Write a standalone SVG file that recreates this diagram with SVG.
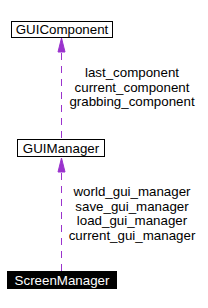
<svg xmlns="http://www.w3.org/2000/svg" width="208" height="308" viewBox="0 0 208 308">
<style>
.box{fill:#ffffff;stroke:#000000;stroke-width:1}
.sel{fill:#000000;stroke:#000000;stroke-width:1}
.t{font-family:"Liberation Sans",Arial,sans-serif;font-size:13.33px;text-anchor:middle;fill:#000000}
.tw{fill:#ffffff}
.edge{stroke:#9a32cd;stroke-width:1;stroke-dasharray:7,6;fill:none}
.head{fill:#9a32cd;stroke:#9a32cd;stroke-width:1}
</style>
<rect width="208" height="308" fill="#ffffff"/>
<g id="connectors">
<path class="edge" d="M61.5,271 L61.5,172"/>
<polygon class="head" points="61.5,158 65,172 58,172"/>
<text class="t" x="132" y="196">world_gui_manager</text>
<text class="t" x="132" y="210.5">save_gui_manager</text>
<text class="t" x="132" y="225">load_gui_manager</text>
<text class="t" x="132" y="239.5">current_gui_manager</text>
<path class="edge" d="M61.5,138 L61.5,52"/>
<polygon class="head" points="61.5,38 65,52 58,52"/>
<text class="t" x="132" y="77">last_component</text>
<text class="t" x="132" y="91.5">current_component</text>
<text class="t" x="132" y="106">grabbing_component</text>
</g>
<g id="GUIComponent">
<rect class="box" x="11.5" y="21.5" width="101" height="16"/>
<text class="t" x="62" y="34">GUIComponent</text>
</g>
<g id="GUIManager">
<rect class="box" x="17.5" y="139.5" width="87" height="17"/>
<text class="t" x="61" y="152.5">GUIManager</text>
</g>
<g id="ScreenManager">
<rect class="sel" x="7.5" y="271.5" width="109" height="17"/>
<text class="t tw" x="62" y="284.5">ScreenManager</text>
</g>
</svg>
